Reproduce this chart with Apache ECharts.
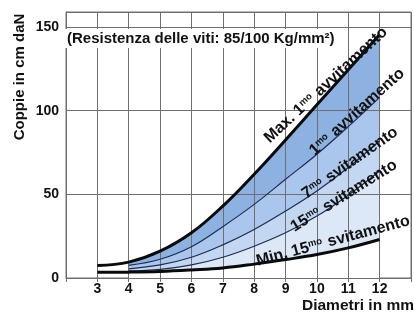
<!DOCTYPE html>
<html>
<head>
<meta charset="utf-8">
<script src="https://cdn.jsdelivr.net/npm/echarts@6/dist/echarts.min.js"></script>
<style>
  html, body { margin: 0; padding: 0; background: #fff; }
  #chart { width: 414px; height: 314px; }
</style>
</head>
<body>
<div id="chart"></div>
<script>
// Diameters (mm) and torque curves (cm daN)
const diameters = [3, 4, 5, 6, 7, 8, 9, 10, 11, 12];
const maxAvv1 = [7.5, 9.5, 16, 27, 43, 62, 82.5, 103.5, 124.5, 145.5];
const avv1 = [null, 7.5, 11.2, 18.7, 30.7, 44, 59, 74, 90.5, 108];
const svit7 = [null, 5.5, 7.8, 12.4, 19.8, 29, 40, 52, 66, 82];
const svit15 = [null, 4.2, 5.2, 7.8, 12.4, 19, 27, 37, 49.5, 64];
const minSvit15 = [3.4, 3.5, 3.9, 4.8, 6, 8.3, 11, 14, 18, 23];

const yTicks = [0, 50, 100, 150];
const xTicks = [3, 4, 5, 6, 7, 8, 9, 10, 11, 12];
const fillFrom = 4; // shaded band starts at 4 mm

const FONT = 'Liberation Sans, Arial, sans-serif';

function pairs(vals, from) {
    const out = [];
    vals.forEach((v, i) => {
        if (v !== null && (from === undefined || diameters[i] >= from)) out.push([diameters[i], v]);
    });
    return out;
}

const chart = echarts.init(document.getElementById('chart'), null, { renderer: 'canvas' });

// areas drawn top to bottom, each one covering the one before it
const area = (name, data, color) => ({
    name, type: 'line', data, smooth: 0.4, symbol: 'none',
    lineStyle: { width: 0 }, areaStyle: { color, opacity: 1 }, silent: true, z: 1
});
const curve = (name, data, width, color) => ({
    name, type: 'line', data, smooth: 0.4, symbol: 'none',
    lineStyle: { width, color }, silent: true, z: 3
});

const sup = { s: { fontSize: 9.5, fontWeight: 'bold', fontFamily: FONT, verticalAlign: 'top', padding: [0, 1, 6, 0] } };
const curveLabel = (text, x, y, deg) => ({
    type: 'text', x, y, rotation: deg * Math.PI / 180, z: 10,
    style: { text, fill: '#111', fontSize: 16, fontWeight: 'bold', fontFamily: FONT,
             align: 'center', verticalAlign: 'middle', rich: sup }
});

const gridColor = '#6f6f6f';

chart.setOption({
    animation: false,
    grid: { left: 66, right: -21, top: 12, bottom: 36, show: true, borderColor: gridColor, borderWidth: 1 },
    xAxis: {
        type: 'value', min: 2, max: 13, interval: 1, z: 2,
        axisLine: { lineStyle: { color: gridColor } },
        axisTick: { show: true, length: 4, lineStyle: { color: gridColor } },
        splitLine: { show: true, lineStyle: { color: gridColor, width: 1 } },
        axisLabel: {
            color: '#111', fontSize: 14, fontWeight: 'bold', fontFamily: FONT, margin: 4,
            formatter: v => xTicks.includes(v) ? String(v) : ''
        }
    },
    yAxis: {
        type: 'value', min: 0, max: 159, interval: 50, z: 2,
        axisLine: { show: true, lineStyle: { color: gridColor } },
        axisTick: { show: false },
        splitLine: { show: true, lineStyle: { color: gridColor, width: 1 } },
        axisLabel: {
            color: '#111', fontSize: 14, fontWeight: 'bold', fontFamily: FONT, margin: 7,
            formatter: v => yTicks.includes(v) ? String(v) : ''
        }
    },
    series: [
        area('fillMax', pairs(maxAvv1, fillFrom), '#8db2e2'),
        area('fill1', pairs(avv1, fillFrom), '#aac6ec'),
        area('fill7', pairs(svit7, fillFrom), '#c3d7f2'),
        area('fill15', pairs(svit15, fillFrom), '#dce8f8'),
        area('fillMin', pairs(minSvit15, fillFrom), '#ffffff'),
        curve('1mo avvitamento', pairs(avv1), 1.2, '#1d2d50'),
        curve('7mo svitamento', pairs(svit7), 1.2, '#1d2d50'),
        curve('15mo svitamento', pairs(svit15), 1.2, '#1d2d50'),
        curve('Max. 1mo avvitamento', pairs(maxAvv1), 3, '#0a0a0a'),
        curve('Min. 15mo svitamento', pairs(minSvit15), 3, '#0a0a0a')
    ],
    graphic: [
        {
            type: 'text', left: 65, top: 29, z: 10,
            style: { text: '(Resistenza delle viti: 85/100 Kg/mm²)', fill: '#111', fontSize: 15,
                     fontWeight: 'bold', fontFamily: FONT, backgroundColor: '#fff', padding: [2, 3, 2, 2] }
        },
        {
            type: 'text', x: 20, y: 77, rotation: Math.PI / 2, z: 10,
            style: { text: 'Coppie in cm daN', fill: '#111', fontSize: 15, fontWeight: 'bold',
                     fontFamily: FONT, align: 'center', verticalAlign: 'middle' }
        },
        {
            type: 'text', x: 302, y: 306, z: 10,
            style: { text: 'Diametri in mm', fill: '#111', fontSize: 15.5, fontWeight: 'bold',
                     fontFamily: FONT, align: 'left', verticalAlign: 'middle' }
        },
        curveLabel('Max. 1{s|mo} avvitamento', 326, 85, 43),
        curveLabel('1{s|mo} avvitamento', 357, 112, 42),
        curveLabel('7{s|mo} svitamento', 350, 163, 35),
        curveLabel('15{s|mo} svitamento', 344, 196, 32),
        curveLabel('Min. 15{s|mo} svitamento', 333, 241, 15)
    ]
});
</script>
</body>
</html>
